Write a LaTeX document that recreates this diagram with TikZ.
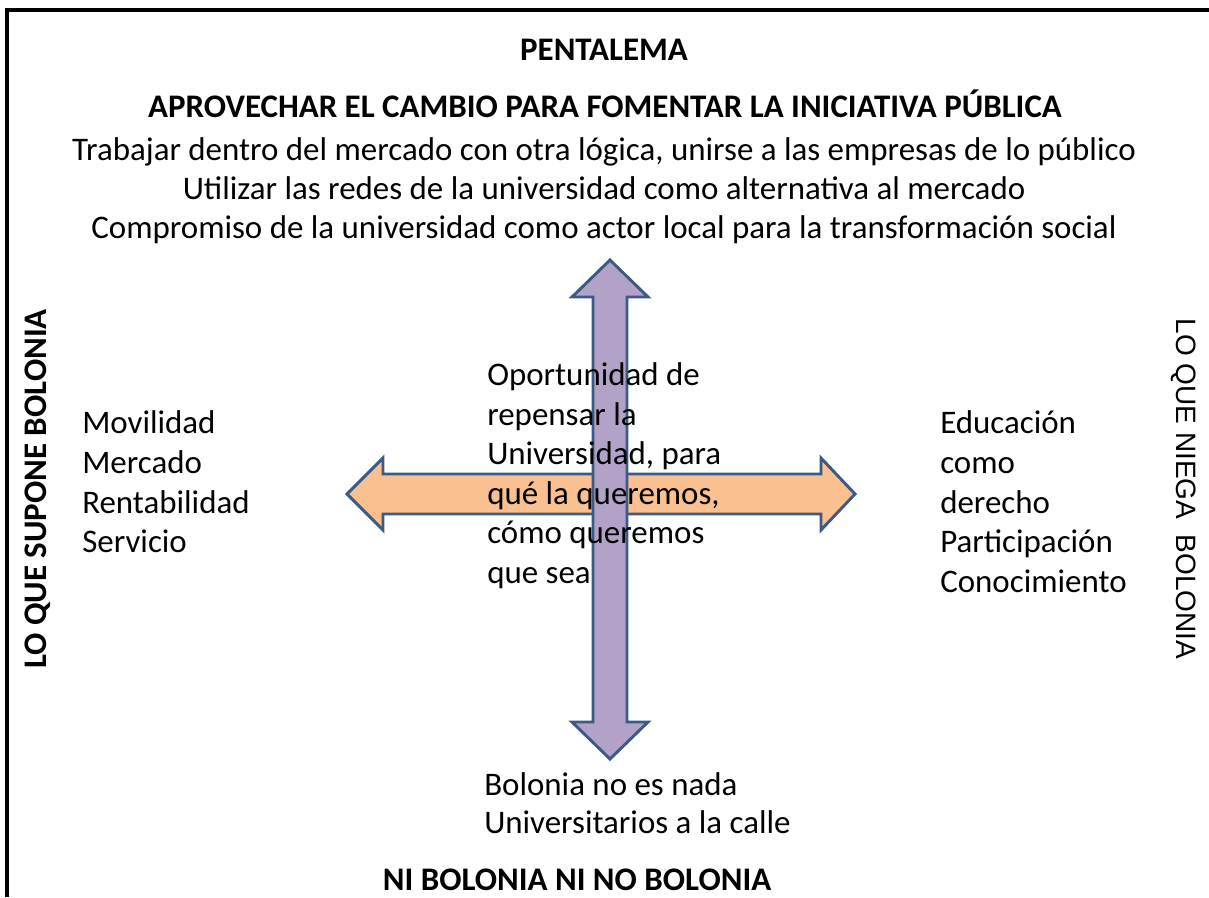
\documentclass[tikz,border=0pt]{standalone}
\usepackage{fontspec}
\setmainfont{Carlito}
\newfontfamily\arialfont{Liberation Sans}
\definecolor{arrowline}{HTML}{3B5A85}
\definecolor{lilac}{HTML}{B3A2C7}
\definecolor{peach}{HTML}{FAC090}

\begin{document}
\begin{tikzpicture}[x=0.75pt, y=-0.75pt,
    txt/.style={font=\fontsize{24.7}{29}\selectfont, inner sep=0pt},
    headtxt/.style={font=\fontsize{24.7}{29}\selectfont\bfseries, inner sep=0pt},
    fatarrow/.style={draw=arrowline, line width=2.2pt, line join=miter}]
  \useasboundingbox (0,0) rectangle (1209,897);
  % frame, cut by the page on the right and at the bottom
  \draw[line width=2.3pt] (1209,10) -- (7,10) -- (7,897);

  % the two arrows
  \draw[fatarrow, fill=peach] (347,494) -- (383,458) -- (383,474) -- (821,474)
    -- (821,458) -- (855,494) -- (821,530) -- (821,514) -- (383,514)
    -- (383,530) -- cycle;
  \draw[fatarrow, fill=lilac] (610,260) -- (648,297) -- (627,297) -- (627,722)
    -- (648,722) -- (610,759) -- (572,722) -- (593,722) -- (593,297)
    -- (572,297) -- cycle;

  % top
  \node[headtxt, anchor=base] (title) at (604,60) {PENTALEMA};
  \node[headtxt, anchor=base] (top) at (605,117)
    {APROVECHAR EL CAMBIO PARA FOMENTAR LA INICIATIVA PÚBLICA};
  \foreach \t [count=\i] in {{Trabajar dentro del mercado con otra lógica, unirse a las empresas de lo público},
      Utilizar las redes de la universidad como alternativa al mercado,
      Compromiso de la universidad como actor local para la transformación social}
    \node[txt, anchor=base] (top\i) at (604,122+38.7*\i) {\t};

  % left and right
  \node[headtxt, rotate=90] (left) at (38,489) {LO QUE SUPONE BOLONIA};
  \node[inner sep=0pt, font=\arialfont\fontsize{21}{25}\selectfont, rotate=-90] (right)
    at (1184,489) {LO QUE NIEGA~~BOLONIA};
  \foreach \t [count=\i] in {Movilidad, Mercado, Rentabilidad, Servicio}
    \node[txt, anchor=base west] (sup\i) at (82,394+39.7*\i) {\t};
  \foreach \t [count=\i] in {Educación, como, derecho, Participación, Conocimiento}
    \node[txt, anchor=base west] (neg\i) at (940,394+39.7*\i) {\t};

  % centre
  \foreach \t [count=\i] in {Oportunidad de, repensar la, {Universidad, para},
      {qué la queremos,}, cómo queremos, que sea}
    \node[txt, anchor=base west] (mid\i) at (487,346+39.5*\i) {\t};

  % bottom
  \node[txt, anchor=base west] (bot1) at (484,795) {Bolonia no es nada};
  \node[txt, anchor=base west] (bot2) at (484,833) {Universitarios a la calle};
  \node[headtxt, anchor=base] (bottom) at (577,890) {NI BOLONIA NI NO BOLONIA};
\end{tikzpicture}
\end{document}
